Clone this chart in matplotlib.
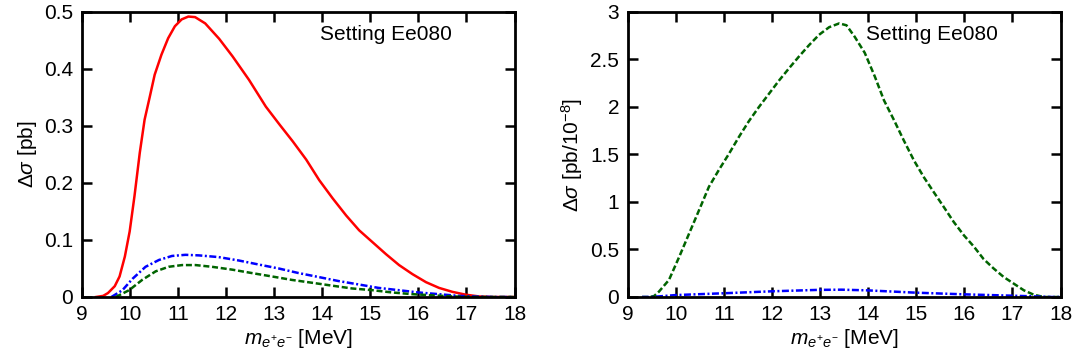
import matplotlib
matplotlib.use('Agg')
import matplotlib.pyplot as plt

plt.rcParams['font.family'] = ['Liberation Sans', 'DejaVu Sans']
plt.rcParams['mathtext.fontset'] = 'custom'
plt.rcParams['mathtext.rm'] = 'Liberation Sans'
plt.rcParams['mathtext.it'] = 'Liberation Sans:italic'

# left panel, Delta sigma [pb]
xRedL = [9.3, 9.45, 9.55, 9.69, 9.79, 9.9, 10.0, 10.1, 10.21, 10.31, 10.42, 10.52, 10.66, 10.8, 10.94,
         11.08, 11.22, 11.36, 11.57, 11.86, 12.14, 12.48, 12.83, 13.12, 13.39, 13.67, 13.94, 14.22, 14.5,
         14.77, 15.05, 15.33, 15.6, 15.88, 16.16, 16.43, 16.71, 16.99, 17.26, 17.54, 18.0]
yRedL = [0.0, 0.002, 0.007, 0.019, 0.036, 0.071, 0.115, 0.177, 0.253, 0.311, 0.352, 0.39, 0.425, 0.454,
         0.475, 0.487, 0.492, 0.491, 0.480, 0.453, 0.422, 0.381, 0.334, 0.302, 0.273, 0.241, 0.205, 0.173,
         0.143, 0.117, 0.096, 0.075, 0.056, 0.040, 0.026, 0.016, 0.009, 0.004, 0.001, 0.0, 0.0]
xBlueL = [9.62, 9.85, 10.06, 10.33, 10.61, 10.88, 11.16, 11.44, 11.85, 12.27, 12.68, 13.1, 13.51, 13.93,
          14.34, 14.76, 15.17, 15.59, 16.0, 16.42, 16.83, 17.25, 17.6, 18.0]
yBlueL = [0.0, 0.012, 0.032, 0.053, 0.065, 0.072, 0.074, 0.073, 0.070, 0.064, 0.057, 0.050, 0.042, 0.035,
          0.028, 0.022, 0.016, 0.012, 0.008, 0.005, 0.002, 0.0006, 0.0, 0.0]
xGreenL = [9.71, 9.99, 10.26, 10.54, 10.81, 11.09, 11.37, 11.71, 12.13, 12.54, 12.96, 13.37, 13.79, 14.2,
           14.62, 15.04, 15.45, 15.87, 16.28, 16.7, 17.11, 18.0]
yGreenL = [0.0, 0.012, 0.030, 0.045, 0.053, 0.056, 0.056, 0.053, 0.048, 0.042, 0.036, 0.030, 0.025, 0.020,
           0.015, 0.012, 0.008, 0.005, 0.003, 0.001, 0.0, 0.0]

# right panel, Delta sigma [pb/10^-8]
xGreenR = [9.3, 9.45, 9.55, 9.65, 9.86, 10.07, 10.28, 10.49, 10.69, 10.9, 11.11, 11.32, 11.52, 11.73,
           11.94, 12.15, 12.36, 12.56, 12.77, 12.98, 13.19, 13.4, 13.55, 13.72, 13.93, 14.14, 14.33, 14.54,
           14.74, 14.95, 15.16, 15.37, 15.57, 15.78, 15.99, 16.2, 16.4, 16.61, 16.82, 17.03, 17.24, 17.44,
           17.65, 18.0]
yGreenR = [0.0, 0.0, 0.01, 0.056, 0.18, 0.42, 0.67, 0.92, 1.16, 1.34, 1.51, 1.69, 1.85, 2.0, 2.14, 2.28,
           2.41, 2.53, 2.65, 2.76, 2.84, 2.88, 2.86, 2.74, 2.57, 2.32, 2.07, 1.86, 1.65, 1.44, 1.26, 1.10,
           0.95, 0.79, 0.65, 0.53, 0.40, 0.30, 0.21, 0.14, 0.07, 0.025, 0.0, 0.0]
xBlueR = [9.3, 9.5, 9.99, 11.03, 12.0, 12.97, 13.45, 13.98, 14.97, 15.99, 16.98, 17.6, 17.8, 18.0]
yBlueR = [0.0, 0.0, 0.02, 0.04, 0.06, 0.075, 0.077, 0.07, 0.046, 0.028, 0.014, 0.004, 0.0, 0.0]

xTicks = list(range(9, 19))
red, blue, green = '#ff0000', '#0000ff', '#006400'
dashGreen = (2.4, 1.1)
dashBlue = (2.8, 1.0, 0.8, 1.0)

fig = plt.figure(figsize=(10.76, 3.6), dpi=100)
axL = fig.add_axes([0.0758, 0.175, 0.4024, 0.7917])
axR = fig.add_axes([0.5833, 0.175, 0.4023, 0.7917])

axL.plot(xRedL, yRedL, color=red, lw=1.8)
axL.plot(xBlueL, yBlueL, color=blue, lw=1.8, dashes=dashBlue)
axL.plot(xGreenL, yGreenL, color=green, lw=1.8, dashes=dashGreen)
axL.set_ylim(0, 0.5)
axL.set_yticks([0, 0.1, 0.2, 0.3, 0.4, 0.5])
axL.set_yticklabels(['0', '0.1', '0.2', '0.3', '0.4', '0.5'])
axL.set_ylabel(r'$\mathit{\Delta\sigma}$ [pb]', fontsize=15)
axL.text(15.32, 0.46, 'Setting Ee080', fontsize=15, ha='center', va='center')

axR.plot(xGreenR, yGreenR, color=green, lw=1.8, dashes=dashGreen)
axR.plot(xBlueR, yBlueR, color=blue, lw=1.8, dashes=dashBlue)
axR.set_ylim(0, 3)
axR.set_yticks([0, 0.5, 1, 1.5, 2, 2.5, 3])
axR.set_yticklabels(['0', '0.5', '1', '1.5', '2', '2.5', '3'])
axR.set_ylabel(r'$\mathit{\Delta\sigma}$ [pb/10$^{-8}$]', fontsize=15)
axR.text(15.33, 2.76, 'Setting Ee080', fontsize=15, ha='center', va='center')

for ax in (axL, axR):
    ax.set_xlim(9, 18)
    ax.set_xticks(xTicks)
    ax.set_xlabel(r'$m_{e^{+}e^{-}}$ [MeV]', fontsize=15, labelpad=2)
    ax.tick_params(direction='in', length=7, width=1.8, top=True, right=True, labelsize=15, pad=6)
    for s in ax.spines.values():
        s.set_linewidth(2)

fig.savefig('out.png', dpi=100)
